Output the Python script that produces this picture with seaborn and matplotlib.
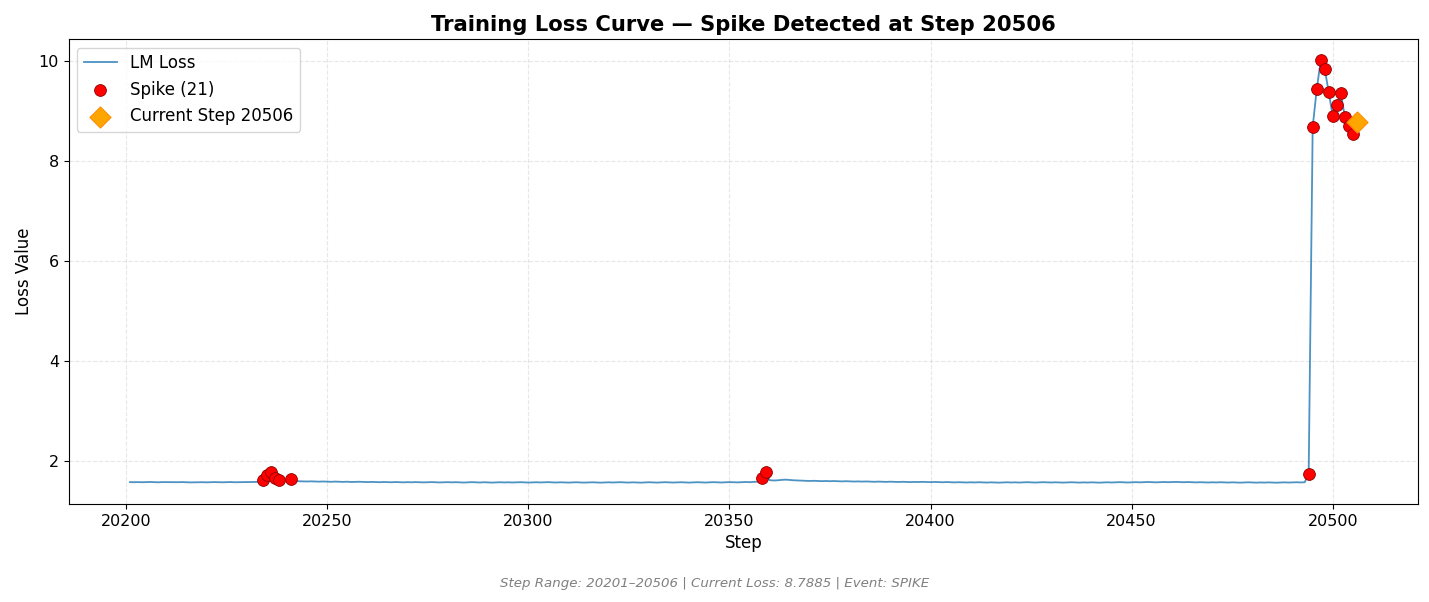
import numpy as np
import pandas as pd
import matplotlib
matplotlib.use("Agg")
import matplotlib.pyplot as plt
import seaborn as sns

# step range 20201..20506, loss
steps = list(range(20201, 20507))
loss = [
    1.585, 1.584, 1.586, 1.583, 1.585, 1.588, 1.584, 1.582, 1.586, 1.585,
    1.583, 1.581, 1.584, 1.586, 1.583, 1.580, 1.582, 1.585, 1.584, 1.581,
    1.583, 1.586, 1.584, 1.582, 1.585, 1.587, 1.583, 1.584, 1.586, 1.588,
    1.585, 1.587, 1.590, 1.620, 1.720, 1.780, 1.660, 1.630, 1.600, 1.598,
    1.650, 1.605, 1.603, 1.600, 1.598, 1.601, 1.597, 1.595, 1.598, 1.594,
    1.592, 1.596, 1.593, 1.590, 1.594, 1.588, 1.591, 1.593, 1.589, 1.586,
    1.590, 1.587, 1.584, 1.588, 1.585, 1.583, 1.587, 1.584, 1.581, 1.585,
    1.582, 1.586, 1.583, 1.580, 1.584, 1.586, 1.582, 1.579, 1.583, 1.585,
    1.581, 1.584, 1.580, 1.577, 1.582, 1.585, 1.581, 1.578, 1.583, 1.580,
    1.576, 1.580, 1.583, 1.579, 1.582, 1.578, 1.581, 1.584, 1.580, 1.577,
    1.581, 1.583, 1.579, 1.582, 1.585, 1.580, 1.578, 1.582, 1.579, 1.576,
    1.580, 1.583, 1.578, 1.576, 1.580, 1.582, 1.579, 1.575, 1.579, 1.582,
    1.578, 1.581, 1.584, 1.579, 1.577, 1.581, 1.578, 1.575, 1.580, 1.583,
    1.579, 1.576, 1.581, 1.584, 1.580, 1.577, 1.580, 1.583, 1.579, 1.576,
    1.580, 1.584, 1.581, 1.577, 1.581, 1.585, 1.582, 1.578, 1.582, 1.586,
    1.583, 1.580, 1.585, 1.588, 1.584, 1.590, 1.595, 1.660, 1.780, 1.625,
    1.618, 1.622, 1.630, 1.635, 1.628, 1.622, 1.618, 1.614, 1.611, 1.608,
    1.612, 1.609, 1.605, 1.608, 1.604, 1.607, 1.603, 1.600, 1.604, 1.601,
    1.597, 1.600, 1.596, 1.599, 1.595, 1.592, 1.596, 1.593, 1.590, 1.594,
    1.591, 1.588, 1.592, 1.589, 1.586, 1.590, 1.587, 1.591, 1.588, 1.585,
    1.589, 1.586, 1.583, 1.587, 1.584, 1.580, 1.584, 1.581, 1.578, 1.582,
    1.579, 1.583, 1.580, 1.577, 1.581, 1.578, 1.575, 1.579, 1.582, 1.578,
    1.581, 1.577, 1.580, 1.584, 1.580, 1.577, 1.581, 1.584, 1.580, 1.578,
    1.582, 1.579, 1.576, 1.580, 1.583, 1.579, 1.576, 1.580, 1.577, 1.581,
    1.578, 1.575, 1.579, 1.582, 1.578, 1.581, 1.585, 1.581, 1.578, 1.582,
    1.585, 1.581, 1.584, 1.588, 1.584, 1.581, 1.585, 1.588, 1.584, 1.587,
    1.590, 1.586, 1.583, 1.587, 1.584, 1.580, 1.584, 1.581, 1.578, 1.582,
    1.579, 1.583, 1.580, 1.577, 1.581, 1.578, 1.575, 1.579, 1.582, 1.578,
    1.575, 1.579, 1.576, 1.580, 1.577, 1.574, 1.578, 1.581, 1.577, 1.580,
    1.583, 1.579, 1.582, 1.740, 8.690, 9.440, 10.020, 9.850, 9.380, 8.900,
    9.120, 9.360, 8.890, 8.710, 8.550, 8.7885,
]

spike_steps = [20234, 20235, 20236, 20237, 20238, 20241, 20358, 20359,
               20494, 20495, 20496, 20497, 20498, 20499, 20500, 20501,
               20502, 20503, 20504, 20505, 20506]
current_step = 20506

df = pd.DataFrame({"step": steps, "loss": loss})
spikes = df[df["step"].isin(spike_steps)]
current = df[df["step"] == current_step]

fig, ax = plt.subplots(figsize=(14.29, 6.02), dpi=100)

sns.lineplot(data=df, x="step", y="loss", ax=ax, color="#1f77b4", alpha=0.8,
             linewidth=1.3, label="LM Loss")
sns.scatterplot(data=spikes, x="step", y="loss", ax=ax, color="red",
                edgecolor="darkred", linewidth=0.6, s=72, zorder=5,
                label=f"Spike ({len(spikes)})")
sns.scatterplot(data=current, x="step", y="loss", ax=ax, color="orange",
                edgecolor="darkorange", linewidth=0.8, marker="D", s=115,
                zorder=6, label=f"Current Step {current_step}")

ax.set_title(f"Training Loss Curve — Spike Detected at Step {current_step}",
             fontsize=15.2, fontweight="bold")
ax.set_xlabel("Step", fontsize=12)
ax.set_ylabel("Loss Value", fontsize=12)
ax.tick_params(labelsize=11.5)
ax.grid(True, linestyle="--", alpha=0.3)
ax.legend(loc="upper left", fontsize=12)

fig.text(0.5, 0.025,
         f"Step Range: {steps[0]}–{steps[-1]} | Current Loss: {loss[-1]:.4f} | Event: SPIKE",
         ha="center", fontsize=9.6, style="italic", color="gray")

plt.tight_layout(rect=[0, 0.058, 1.003, 1.0])
plt.savefig("out.png", dpi=100)
